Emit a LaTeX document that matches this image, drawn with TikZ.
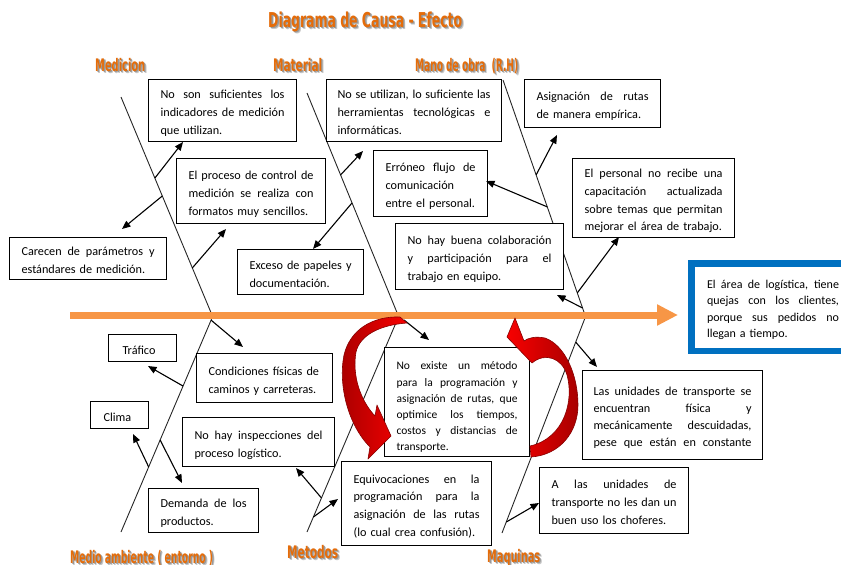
\documentclass[tikz,border=0pt]{standalone}
\usepackage{fontspec}
\usepackage{graphicx}
\setmainfont{Carlito}
\newfontfamily\hdrfont{DejaVu Sans}
\usetikzlibrary{arrows.meta,calc}

\definecolor{spineorange}{HTML}{F79646}
\definecolor{hdrorange}{HTML}{E46C0A}
\definecolor{effectblue}{HTML}{0070C0}
\definecolor{arcred}{HTML}{F80000}
\definecolor{arcdark}{HTML}{A80000}

% one justified line / one flush-left line inside a fixed-width box
\newcommand\jline[1]{\par\noindent\hbox to\hsize{\spaceskip=\fontdimen2\font plus 1fil\relax\strut#1}}
\newcommand\lline[1]{\par\noindent\hbox to\hsize{\strut#1\hfil}}

% orange heading with a soft grey drop shadow
\newcommand\hdrlabel[6]{%
  \node[hdrshadow, text=black!22] (#1-s2) at (#2+2.2,#3+2.2) {\resizebox{#4pt}{\height}{\fontsize{#5}{#5}\selectfont #6}};
  \node[hdrshadow, text=black!40] (#1-s1) at (#2+1.3,#3+1.3) {\resizebox{#4pt}{\height}{\fontsize{#5}{#5}\selectfont #6}};
  \node[hdr] (#1) at (#2,#3) {\resizebox{#4pt}{\height}{\fontsize{#5}{#5}\selectfont #6}};
}

\tikzset{
  cbox/.style={draw=black, line width=1.1pt, fill=white, anchor=north west,
    inner xsep=12pt, inner ysep=0pt, align=left,
    font=\fontsize{12.2}{18}\selectfont},
  bone/.style={draw=black!85, line width=0.9pt},
  spine/.style={draw=spineorange, line width=7pt,
    -{Triangle[length=21pt,width=20pt]}},
  arr/.style={draw=black, line width=1.1pt,
    -{Triangle[length=8.5pt,width=7pt]}},
  redarc/.style={draw=arcdark!80!black, line width=0.6pt, line join=round},
  hdr/.style={font=\hdrfont\bfseries, text=hdrorange, inner sep=0pt, anchor=base west},
  hdrshadow/.style={font=\hdrfont\bfseries, inner sep=0pt, anchor=base west},
}

\begin{document}
\begin{tikzpicture}[x=1pt, y=-1pt]
\useasboundingbox (0,0) rectangle (841,565);

% ---- bones ----
\coordinate (meT) at (121,97);  \coordinate (meS) at (212,315);
\coordinate (maT) at (307,93);  \coordinate (maS) at (398,315);
\coordinate (moT) at (503,80);  \coordinate (moS) at (585,315);
\coordinate (enB) at (121,532); \coordinate (enS) at (212,318);
\coordinate (mtB) at (307,532); \coordinate (mtS) at (398,318);
\coordinate (mqB) at (502,533); \coordinate (mqS) at (585,318);

\draw[bone] (meT) -- (meS);
\draw[bone] (maT) -- (maS);
\draw[bone] (moT) -- (moS);
\draw[bone] (enS) -- (enB);
\draw[bone] (mtS) -- (mtB);
\draw[bone] (mqS) -- (mqB);

% ---- spine ----
\coordinate (spL) at (70,315);
\coordinate (spR) at (678,315);
\draw[spine] (spL) -- (spR);

% ---- effect ----
\node[draw=effectblue, line width=6.5pt, fill=white, anchor=north west,
  inner xsep=15.5pt, inner ysep=0pt, minimum height=87.5pt, text width=132pt,
  align=left, font=\fontsize{12}{16.5}\selectfont] (effect) at (688.25,260.25)
  {\jline{El área de logística,  tiene}\jline{quejas con  los clientes,}\jline{porque sus pedidos no}\lline{llegan a tiempo.}};

% ---- Medicion ----
\node[cbox, text width=124pt, minimum height=62pt] (me1) at (148,79)
  {\jline{No son suficientes los}\jline{indicadores de medición}\lline{que utilizan.}};
\node[cbox, text width=125pt, minimum height=65pt] (me2) at (176,158)
  {\jline{El proceso de control de}\jline{medición se realiza con}\lline{formatos muy sencillos.}};
\node[cbox, text width=133pt, minimum height=42pt] (me3) at (9,237)
  {\jline{Carecen de parámetros y}\lline{estándares de medición.}};

% ---- Material ----
\node[cbox, inner xsep=11pt, text width=153pt, minimum height=62pt] (ma1) at (326,79)
  {\jline{No se utilizan, lo suficiente las}\jline{herramientas tecnológicas e}\lline{informáticas.}};
\node[cbox, text width=90pt, minimum height=66pt] (ma2) at (373,150)
  {\jline{Erróneo flujo de}\lline{comunicación}\lline{entre el personal.}};
\node[cbox, text width=102pt, minimum height=45pt] (ma3) at (237,249)
  {\jline{Exceso de papeles y}\lline{documentación.}};

% ---- Mano de obra ----
\node[cbox, text width=144pt, minimum height=66pt] (mo1) at (395,223)
  {\jline{No hay  buena colaboración}\jline{y participación para el}\lline{trabajo en equipo.}};
\node[cbox, text width=112pt, minimum height=48pt] (mo2) at (524,79)
  {\jline{Asignación de rutas}\lline{de manera empírica.}};
\node[cbox, text width=138pt, minimum height=79pt, font=\fontsize{12.2}{17.6}\selectfont] (mo3) at (572,158)
  {\jline{El personal no recibe una}\jline{capacitación actualizada}\jline{sobre temas que permitan}\lline{mejorar el área de trabajo.}};

% ---- Medio ambiente ----
\node[cbox, inner xsep=14pt, text width=40pt, minimum height=27pt] (en1) at (108,334)
  {\lline{Tráfico}};
\node[cbox, text width=112pt, minimum height=49pt] (en2) at (196,353)
  {\lline{Condiciones físicas de}\lline{caminos y carreteras.}};
\node[cbox, inner xsep=13pt, text width=32pt, minimum height=27pt] (en3) at (90,401)
  {\lline{Clima}};
\node[cbox, text width=86pt, minimum height=44pt] (en4) at (148,488)
  {\jline{Demanda de los}\lline{productos.}};

% ---- Metodos ----
\node[cbox, text width=128pt, minimum height=49pt] (mt1) at (182,417)
  {\jline{No hay inspecciones del}\lline{proceso logístico.}};
\node[cbox, text width=121pt, minimum height=109pt, font=\fontsize{11.5}{16.1}\selectfont] (mt2) at (384,347)
  {\par\kern5pt\jline{No existe un método}\jline{para la programación y}\jline{asignación de rutas, que}\jline{optimice los tiempos,}\jline{costos y distancias de}\lline{transporte.}};
\node[cbox, text width=126pt, minimum height=84pt, font=\fontsize{12.2}{17.7}\selectfont] (mt3) at (341,461)
  {\jline{Equivocaciones en la}\jline{programación para la}\jline{asignación de las rutas}\lline{(lo cual crea  confusión).}};

% ---- Maquinas ----
\node[cbox, inner xsep=11pt, text width=158pt, minimum height=89pt, font=\fontsize{12.2}{17}\selectfont] (mq1) at (582,370)
  {\jline{Las unidades de transporte se}\jline{encuentran física y}\jline{mecánicamente descuidadas,}\jline{pese que están en constante}};
\node[cbox, text width=125pt, minimum height=66pt] (mq2) at (539,467)
  {\jline{A las unidades de}\jline{transporte no les dan un}\lline{buen uso los choferes.}};

% ---- cause arrows ----
\coordinate (b1) at ($(meT)!0.372!(meS)$);  \coordinate (t1) at (183,142);
\coordinate (b2) at ($(meT)!0.454!(meS)$);  \coordinate (t2) at (122,229);
\coordinate (b3) at ($(meT)!0.784!(meS)$);  \coordinate (t3) at (226,229);
\coordinate (b4) at ($(maT)!0.369!(maS)$);  \coordinate (t4) at (363,151);
\coordinate (b5) at ($(maT)!0.495!(maS)$);  \coordinate (t5) at (313,249);
\coordinate (b6) at ($(moT)!0.404!(moS)$);  \coordinate (t6) at (557,135);
\coordinate (b7) at ($(moT)!0.540!(moS)$);  \coordinate (t7) at (486,181);
\coordinate (b8) at ($(moT)!0.906!(moS)$);  \coordinate (t8) at (619,237);
\coordinate (b9) at ($(moT)!0.970!(moS)$);  \coordinate (t9) at (557,295);
\coordinate (b10) at ($(enS)!0.01!(enB)$);  \coordinate (t10) at (243,347);
\coordinate (b11) at ($(enS)!0.318!(enB)$); \coordinate (t11) at (148,366);
\coordinate (b12) at ($(enS)!0.696!(enB)$); \coordinate (t12) at (133,434);
\coordinate (b13) at ($(enS)!0.570!(enB)$); \coordinate (t13) at (182,483);
\coordinate (b14) at (404,320);             \coordinate (t14) at (429,340);
\coordinate (b15) at ($(mtS)!0.841!(mtB)$); \coordinate (t15) at (296,468);
\coordinate (b16) at ($(mtS)!0.930!(mtB)$); \coordinate (t16) at (338,499);
\coordinate (b17) at ($(mqS)!0.112!(mqB)$); \coordinate (t17) at (597,367);
\coordinate (b18) at ($(mqS)!0.949!(mqB)$); \coordinate (t18) at (539,503);

\foreach \i in {1,...,18} { \draw[arr] (b\i) -- (t\i); }

% ---- curved red arrows between spine and central cause ----
\path[redarc, left color=arcdark, right color=arcred]
  (400,317) .. controls (372,316) and (350,330) .. (344,355)
  .. controls (338,385) and (348,425) .. (370,447)
  -- (368,459) -- (391,436) -- (377,405) -- (375,416)
  .. controls (360,400) and (352,375) .. (356,352)
  .. controls (360,335) and (380,325) .. (407,323) -- cycle;

\path[redarc, left color=arcred, right color=arcdark]
  (531,457) .. controls (560,455) and (578,432) .. (578,405)
  .. controls (578,375) and (565,345) .. (545,338)
  .. controls (535,336) and (528,338) .. (524,341)
  -- (515,318) -- (507,337) -- (532,363)
  .. controls (545,352) and (562,358) .. (567,375)
  .. controls (574,400) and (565,438) .. (530,446) -- cycle;

% ---- headings ----
\hdrlabel{title}{268}{27}{194}{20.5}{Diagrama de Causa - Efecto}
\hdrlabel{medicion}{95}{71}{50}{17.3}{Medicion}
\hdrlabel{material}{273}{71}{49}{17.3}{Material}
\hdrlabel{manoobra}{415}{71}{103}{17.3}{Mano de obra\ \ (R.H)}
\hdrlabel{medioamb}{70}{563}{143}{17.3}{Medio ambiente ( entorno )}
\hdrlabel{metodos}{287}{558}{51}{17.3}{Metodos}
\hdrlabel{maquinas}{487}{562}{53}{17.3}{Maquinas}

\end{tikzpicture}
\end{document}
